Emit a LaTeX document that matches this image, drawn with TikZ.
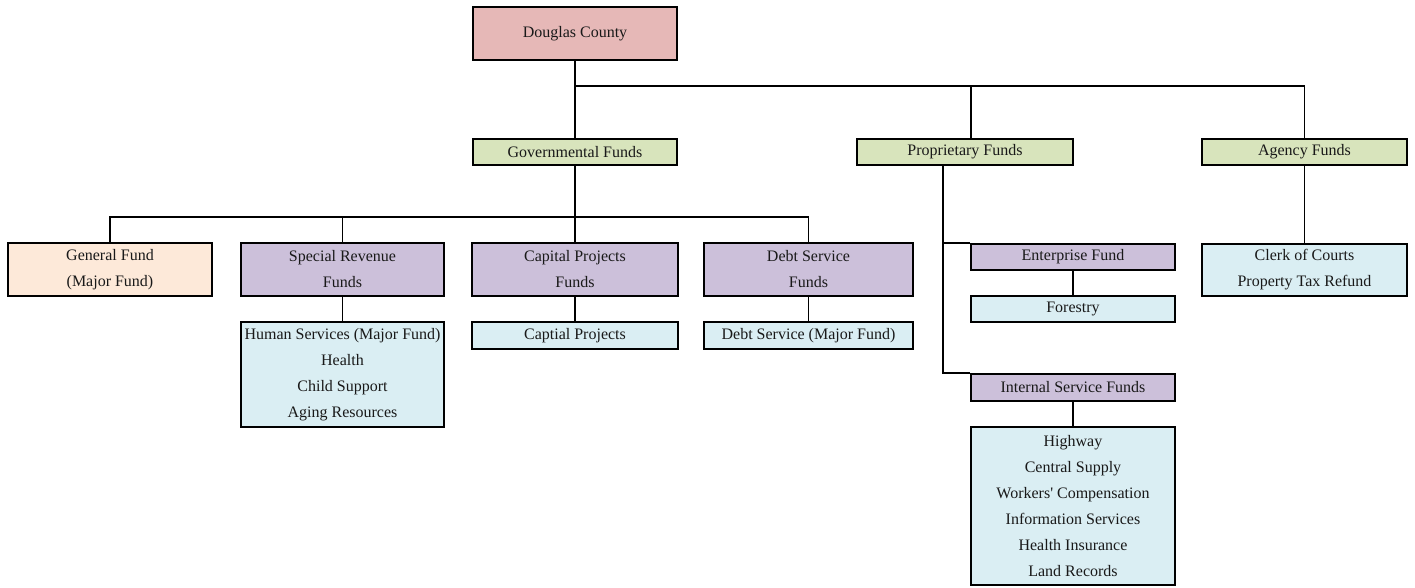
\documentclass[tikz,border=0pt]{standalone}
\usepackage{fontspec}
\setmainfont{Liberation Serif}[Ligatures=TeXOff]
\usetikzlibrary{calc}
\definecolor{cpink}{HTML}{E6B8B7}
\definecolor{cgreen}{HTML}{D8E4BC}
\definecolor{cpeach}{HTML}{FDE9D9}
\definecolor{cpurple}{HTML}{CCC0DA}
\definecolor{cblue}{HTML}{DAEEF3}
\tikzset{
  box/.style={draw=black, line width=1.5pt, inner sep=0pt, align=center,
    font=\fontsize{12}{19.5}\selectfont, text=black!90},
  sz/.style 2 args={minimum width=#1pt, minimum height=#2pt},
  conn/.style={draw=black, line width=1.2pt}
}
\begin{document}
\begin{tikzpicture}[x=0.75pt,y=-0.75pt]
\useasboundingbox (0,0) rectangle (1415,587);
% level 0
\node[box, fill=cpink, sz={153}{39.75}] (dc) at (575,33.5) {Douglas County};
% level 1
\node[box, fill=cgreen, sz={153}{19.5}] (gov) at (575,152) {Governmental Funds};
\node[box, fill=cgreen, sz={162}{19.5}] (prop) at (965,152) {Proprietary Funds};
\node[box, fill=cgreen, sz={153.75}{19.5}] (agency) at (1304.5,152) {Agency Funds};
% governmental children
\node[box, fill=cpeach, sz={153}{39.75}] (gen) at (110,269.5) {General Fund\\(Major Fund)};
\node[box, fill=cpurple, sz={152.25}{39.75}] (spec) at (342.5,269.5) {Special Revenue\\Funds};
\node[box, fill=cpurple, sz={154.5}{39.75}] (cap) at (575,269.5) {Capital Projects\\Funds};
\node[box, fill=cpurple, sz={156.75}{39.75}] (debt) at (808.5,269.5) {Debt Service\\Funds};
\node[box, fill=cblue, sz={152.25}{78.75}] (hs) at (342.5,374.5) {Human Services (Major Fund)\\Health\\Child Support\\Aging Resources};
\node[box, fill=cblue, sz={154.5}{20.25}] (cp) at (575,335.5) {Captial Projects};
\node[box, fill=cblue, sz={156.75}{20.25}] (ds) at (808.5,335.5) {Debt Service (Major Fund)};
% proprietary children
\node[box, fill=cpurple, sz={153}{19.5}] (ent) at (1073,257) {Enterprise Fund};
\node[box, fill=cblue, sz={153}{19.5}] (for) at (1073,309) {Forestry};
\node[box, fill=cpurple, sz={153}{20.25}] (int) at (1073,387.5) {Internal Service Funds};
\node[box, fill=cblue, sz={153}{118.5}] (isf) at (1073,506) {Highway\\Central Supply\\Workers' Compensation\\Information Services\\Health Insurance\\Land Records};
% agency children
\node[box, fill=cblue, sz={153.75}{39}] (clerk) at (1304.5,270) {Clerk of Courts\\Property Tax Refund};
% connectors
\coordinate (j1) at (575,86);
\coordinate (j2) at (575,217);
\draw[conn] (dc.south) -- (gov.north);
\draw[conn] (j1) -| ([xshift=4.5pt]prop.north);
\draw[conn] (j1) -| (agency.north);
\draw[conn] (gov.south) -- (cap.north);
\draw[conn] (j2) -| (gen.north);
\draw[conn] (j2) -| (spec.north);
\draw[conn] (j2) -| (debt.north);
\draw[conn] (spec.south) -- (hs.north);
\draw[conn] (cap.south) -- (cp.north);
\draw[conn] (debt.south) -- (ds.north);
\draw[conn] ([xshift=-16.5pt]prop.south) |- (int.north west);
\draw[conn] ([xshift=-16.5pt]prop.south) |- (ent.north west);
\draw[conn] (ent.south) -- (for.north);
\draw[conn] (int.south) -- (isf.north);
\draw[conn] (agency.south) -- (clerk.north);
\end{tikzpicture}
\end{document}
